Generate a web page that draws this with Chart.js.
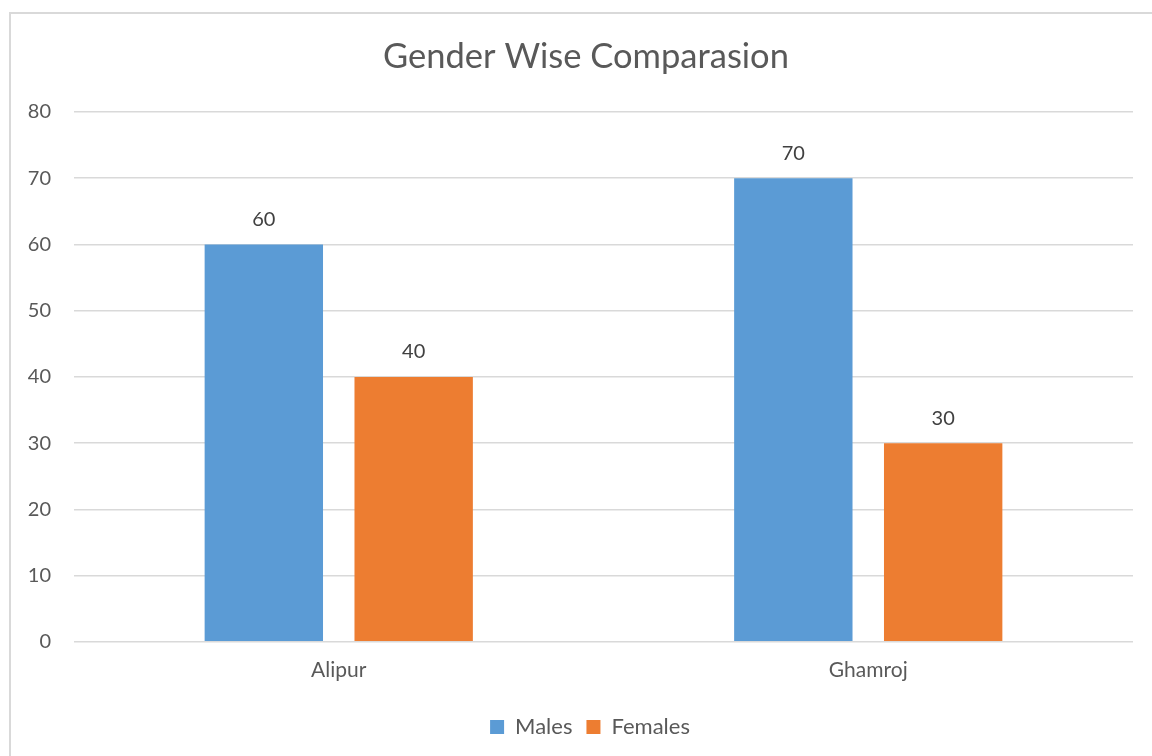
<!DOCTYPE html>
<html>
<head>
  <meta charset="utf-8">
  <script src="https://cdn.jsdelivr.net/npm/chart.js"></script>
  <style>
    html, body { margin: 0; padding: 0; background: #fff; }
    canvas { display: block; }
  </style>
</head>
<body>
  <canvas id="myChart" width="1152" height="756"></canvas>
  <script>
    const categories = ['Alipur', 'Ghamroj'];
    const males = [60, 70];
    const females = [40, 30];
    const yTicks = [0, 10, 20, 30, 40, 50, 60, 70, 80];
    const chartTitle = 'Gender Wise Comparasion';

    const FONT = "Lato, 'Liberation Sans', sans-serif";
    const FRAME_X = 10, FRAME_Y = 13;

    // light frame around the whole chart (runs off the right and bottom edges),
    // title centred on the frame
    const framePlugin = {
      id: 'frame',
      afterLayout(chart) {
        // centre the legend on the frame rather than on the padded box
        const shift = FRAME_X + chart.width / 2 - (chart.legend.left + chart.legend.right) / 2 + 4;
        chart.legend.left += shift;
        chart.legend.right += shift;
      },
      beforeDraw(chart) {
        const c = chart.ctx;
        c.save();
        c.strokeStyle = '#d9d9d9';
        c.lineWidth = 2;
        c.strokeRect(FRAME_X, FRAME_Y, chart.width + 2 * FRAME_X, chart.height + 20);
        c.font = '34.5px ' + FONT;
        c.fillStyle = '#595959';
        c.textAlign = 'center';
        c.textBaseline = 'middle';
        c.fillText(chartTitle, chart.width / 2 + FRAME_X, 57);
        c.restore();
      }
    };

    // value written above each bar
    const valueLabels = {
      id: 'valueLabels',
      afterDatasetsDraw(chart) {
        const c = chart.ctx;
        c.save();
        c.font = '20px ' + FONT;
        c.fillStyle = '#404040';
        c.textAlign = 'center';
        c.textBaseline = 'middle';
        chart.data.datasets.forEach((ds, i) => {
          chart.getDatasetMeta(i).data.forEach((bar, j) => {
            c.fillText(String(ds.data[j]), bar.x, bar.y - 25);
          });
        });
        c.restore();
      }
    };

    const ctx = document.getElementById('myChart').getContext('2d');
    new Chart(ctx, {
      type: 'bar',
      data: {
        labels: categories,
        datasets: [
          { label: 'Males', data: males, backgroundColor: '#5B9BD5' },
          { label: 'Females', data: females, backgroundColor: '#ED7D31' }
        ]
      },
      options: {
        responsive: false,
        animation: false,
        layout: { padding: { left: 0, right: 19, top: 112, bottom: 8 } },
        datasets: {
          bar: { categoryPercentage: 0.566, barPercentage: 0.79 }
        },
        plugins: {
          title: { display: false },
          legend: {
            position: 'bottom',
            labels: {
              color: '#595959',
              font: { family: FONT, size: 22 },
              boxWidth: 14,
              boxHeight: 14,
              padding: 14
            }
          },
          tooltip: { enabled: false }
        },
        scales: {
          x: {
            afterFit(scale) { scale.height += 11; },
            grid: { display: false },
            border: { display: false },
            ticks: { color: '#595959', font: { family: FONT, size: 21 }, padding: 8 }
          },
          y: {
            min: 0,
            max: 80,
            afterBuildTicks(scale) {
              scale.ticks = yTicks.map(v => ({ value: v }));
            },
            afterFit(scale) { scale.width = 74; },
            grid: { color: '#d9d9d9', lineWidth: 1.5, drawTicks: false },
            border: { display: false },
            ticks: { color: '#595959', font: { family: FONT, size: 20 }, padding: 23 }
          }
        }
      },
      plugins: [framePlugin, valueLabels]
    });
  </script>
</body>
</html>
